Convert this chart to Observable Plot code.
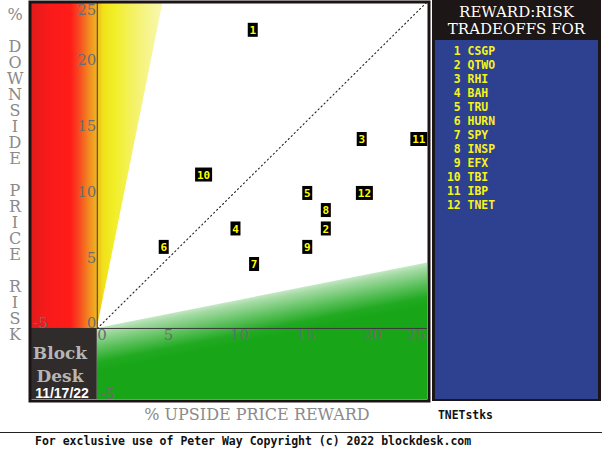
<!DOCTYPE html>
<html><head><meta charset="utf-8">
<script src="https://cdn.jsdelivr.net/npm/d3@7"></script>
<script src="https://cdn.jsdelivr.net/npm/@observablehq/plot@0.6"></script>
<style>
body{margin:0;background:#fff;}
#wrap{position:relative;width:602px;height:460px;overflow:hidden;background:#fff;}
#wrap svg{position:absolute;left:0;top:0;}
.abs{position:absolute;white-space:pre;line-height:1;}
.c{transform:translate(-50%,-50%);}
.l{transform:translate(0,-50%);}
.serif{font-family:"DejaVu Serif",serif;}
.mono{font-family:"DejaVu Sans Mono",monospace;font-weight:bold;}
</style></head><body><div id="wrap"></div>
<script>
// ---- data ----
const ids = [1,2,3,4,5,6,7,8,9,10,11,12];
const tickers = ["CSGP","QTWO","RHI","BAH","TRU","HURN","SPY","INSP","EFX","TBI","IBP","TNET"];
const upside = [11.7,17.2,19.9,10.4,15.8,5.0,11.8,17.2,15.8,8.0,24.2,20.1];
const downside = [22.7,7.6,14.4,7.6,10.3,6.2,4.9,9.0,6.2,11.7,14.4,10.3];
const xTicks = [-5,0,5,10,15,20,25];
const yTicks = [-5,0,5,10,15,20,25];
const asOf = "11/17/22";
const brand = ["Block","Desk"];
const panelTitle = ["REWARD:RISK","TRADEOFFS FOR"];
const yTitle = "% DOWNSIDE PRICE RISK";
const xTitle = "% UPSIDE PRICE REWARD";
const listName = "TNETstks";
const footer = "For exclusive use of Peter Way Copyright (c) 2022 blockdesk.com";

// ---- chart ----
const X0 = -4.95, X1 = 24.85, Y0 = -5.4, Y1 = 24.7;
const data = ids.map((id,i)=>({id, ticker: tickers[i], x: upside[i], y: downside[i]}));
const box = w => ({draw(ctx){ctx.moveTo(-w/2,-7);ctx.lineTo(w/2,-7);ctx.lineTo(w/2,7);ctx.lineTo(-w/2,7);ctx.closePath();}});
const tickFont = {fontFamily:"DejaVu Serif", fontSize:15, fill:"#6c6c6c"};

const chart = Plot.plot({
  width: 432, height: 402,
  marginLeft: 31, marginRight: 5, marginTop: 3, marginBottom: 3,
  x: {domain: [X0, X1], axis: null},
  y: {domain: [Y0, Y1], axis: null},
  style: {background: "transparent", overflow: "visible"},
  marks: [
    Plot.areaX([0, Y1], {y: d => d, x1: X0, x2: d => d/5, fill: "url(#gRY)"}),
    Plot.areaY([0, X1], {x: d => d, y1: Y0, y2: d => d/5, fill: "url(#gG)"}),
    Plot.rect([0], {x1: X0, x2: 0, y1: Y0, y2: 0, fill: "#312c2c"}),
    Plot.ruleX([0], {y1: 0, y2: Y1, stroke: "#3a3a3a"}),
    Plot.ruleY([0], {x1: 0, x2: X1, stroke: "#3a3a3a"}),
    Plot.line([[0,0],[25,25]], {stroke: "#222", strokeWidth: 1.1, strokeDasharray: "1.2,3", clip: true}),
    // tick labels
    Plot.text(xTicks.filter(t => t >= 0 && t < 25), {x: d => d, y: 0, text: d => String(d), textAnchor: "start", lineAnchor: "top", dy: 1, ...tickFont}),
    Plot.text(xTicks.filter(t => t >= 25), {x: X1, y: 0, text: d => String(d), textAnchor: "end", lineAnchor: "top", dy: 1, dx: -2, ...tickFont}),
    Plot.text(xTicks.filter(t => t < 0), {x: X0, y: 0, text: d => String(d), textAnchor: "start", lineAnchor: "bottom", dx: 2, ...tickFont}),
    Plot.text(yTicks.filter(t => t >= 0 && t < 25), {x: 0, y: d => d, text: d => String(d), textAnchor: "end", lineAnchor: "bottom", dx: -1, ...tickFont}),
    Plot.text(yTicks.filter(t => t >= 25), {x: 0, y: Y1, text: d => String(d), textAnchor: "end", lineAnchor: "top", dx: -1, dy: 1, ...tickFont}),
    Plot.text(yTicks.filter(t => t < 0), {x: 0, y: Y0, text: d => String(d), textAnchor: "start", lineAnchor: "bottom", dx: 3, dy: -1, ...tickFont}),
    // points
    Plot.dot(data.filter(d => d.id < 10), {x: "x", y: "y", symbol: box(10), fill: "black", stroke: "none"}),
    Plot.dot(data.filter(d => d.id >= 10), {x: "x", y: "y", symbol: box(17), fill: "black", stroke: "none"}),
    Plot.text(data, {x: "x", y: "y", text: d => String(d.id), fill: "#ffff00", fontFamily: "DejaVu Sans Mono", fontWeight: "bold", fontSize: 11, lineAnchor: "middle", dy: 0.5}),
    Plot.frame({stroke: "#1c1414", strokeWidth: 3, inset: -1.5})
  ]
});

const wrap = document.getElementById("wrap");
wrap.appendChild(chart);

// gradients
let sx, sy;
try { const a = chart.scale("x"), b = chart.scale("y"); sx = v => a.apply(v); sy = v => b.apply(v); }
catch(e) { sx = d3.scaleLinear([X0,X1],[31,427]); sy = d3.scaleLinear([Y0,Y1],[399,3]); }
const ax = sx(0), ay = sy(0), bx = sx(X1), by = sy(X1/5);
const len = Math.hypot(bx-ax, by-ay);
const nx = (ay-by)/len, ny = (bx-ax)/len; // normal pointing down
const mx = (ax+bx)/2, my = (ay+by)/2;
const defs = `<linearGradient id="gRY" x1="0" y1="0" x2="1" y2="0">
 <stop offset="0" stop-color="#e01b1b"/><stop offset="0.12" stop-color="#f81a1a"/>
 <stop offset="0.3" stop-color="#ff1c18"/><stop offset="0.37" stop-color="#f74c20"/>
 <stop offset="0.44" stop-color="#f28a20"/><stop offset="0.5" stop-color="#f0b420"/>
 <stop offset="0.55" stop-color="#f0e21a"/><stop offset="0.63" stop-color="#f1ee26"/>
 <stop offset="0.78" stop-color="#f4f266"/><stop offset="1" stop-color="#f8f8b4"/>
</linearGradient>
<linearGradient id="gG" gradientUnits="userSpaceOnUse" x1="${mx}" y1="${my}" x2="${mx+nx*42}" y2="${my+ny*42}">
 <stop offset="0" stop-color="#c4e8c4"/><stop offset="0.12" stop-color="#a4daa4"/>
 <stop offset="0.5" stop-color="#58bf58"/><stop offset="0.8" stop-color="#22aa22"/>
 <stop offset="1" stop-color="#18a618"/>
</linearGradient>`;
d3.select(chart).insert("defs", ":first-child").html(defs);

// overlays
function add(text, cls, style){ const d = document.createElement("div"); d.className = "abs " + cls; d.textContent = text; Object.assign(d.style, style); wrap.appendChild(d); return d; }

// y title: one stacked text block, one letter per line
add([...yTitle].join("\n"), "serif", {left:"7px", width:"16px", top:"7px", fontSize:"16px", lineHeight:"16px", textAlign:"center", color:"#8a8a8a"});
// brand
add(brand[0], "c serif", {left:"60px", top:"353px", fontSize:"17px", fontWeight:"bold", color:"#b6b6b6"});
add(brand[1], "c serif", {left:"60px", top:"376px", fontSize:"17px", fontWeight:"bold", color:"#b6b6b6"});
add(asOf, "c", {left:"62px", top:"392.5px", fontSize:"14px", fontWeight:"bold", color:"#ffffff", fontFamily:"Liberation Sans, Arial, sans-serif"});

// right panel
const panel = document.createElement("div");
Object.assign(panel.style, {position:"absolute", left:"432px", top:"0px", width:"169px", height:"401px", background:"#1c1616"});
wrap.appendChild(panel);
const blue = document.createElement("div");
Object.assign(blue.style, {position:"absolute", left:"435px", top:"40px", width:"163px", height:"359px", background:"#2e4190"});
wrap.appendChild(blue);
add(panelTitle[0], "c serif", {left:"516.5px", top:"12px", fontSize:"15px", color:"#ffffff"});
add(panelTitle[1], "c serif", {left:"516.5px", top:"29px", fontSize:"15px", color:"#ffffff"});
ids.forEach((id,i) => add(String(id).padStart(2," ") + " " + tickers[i], "l mono", {left:"447px", top:(51.7+14*i)+"px", fontSize:"11.4px", color:"#f6f41c"}));

// bottom texts
add(xTitle, "c serif", {left:"257px", top:"415px", fontSize:"16px", color:"#8a8a8a"});
add(listName, "l mono", {left:"438px", top:"416px", fontSize:"11.4px", color:"#111"});
const hr = document.createElement("div");
Object.assign(hr.style, {position:"absolute", left:"0px", top:"432px", width:"602px", height:"1px", background:"#222"});
wrap.appendChild(hr);
add(footer, "l mono", {left:"35px", top:"442px", fontSize:"11.5px", color:"#111"});
</script></body></html>
